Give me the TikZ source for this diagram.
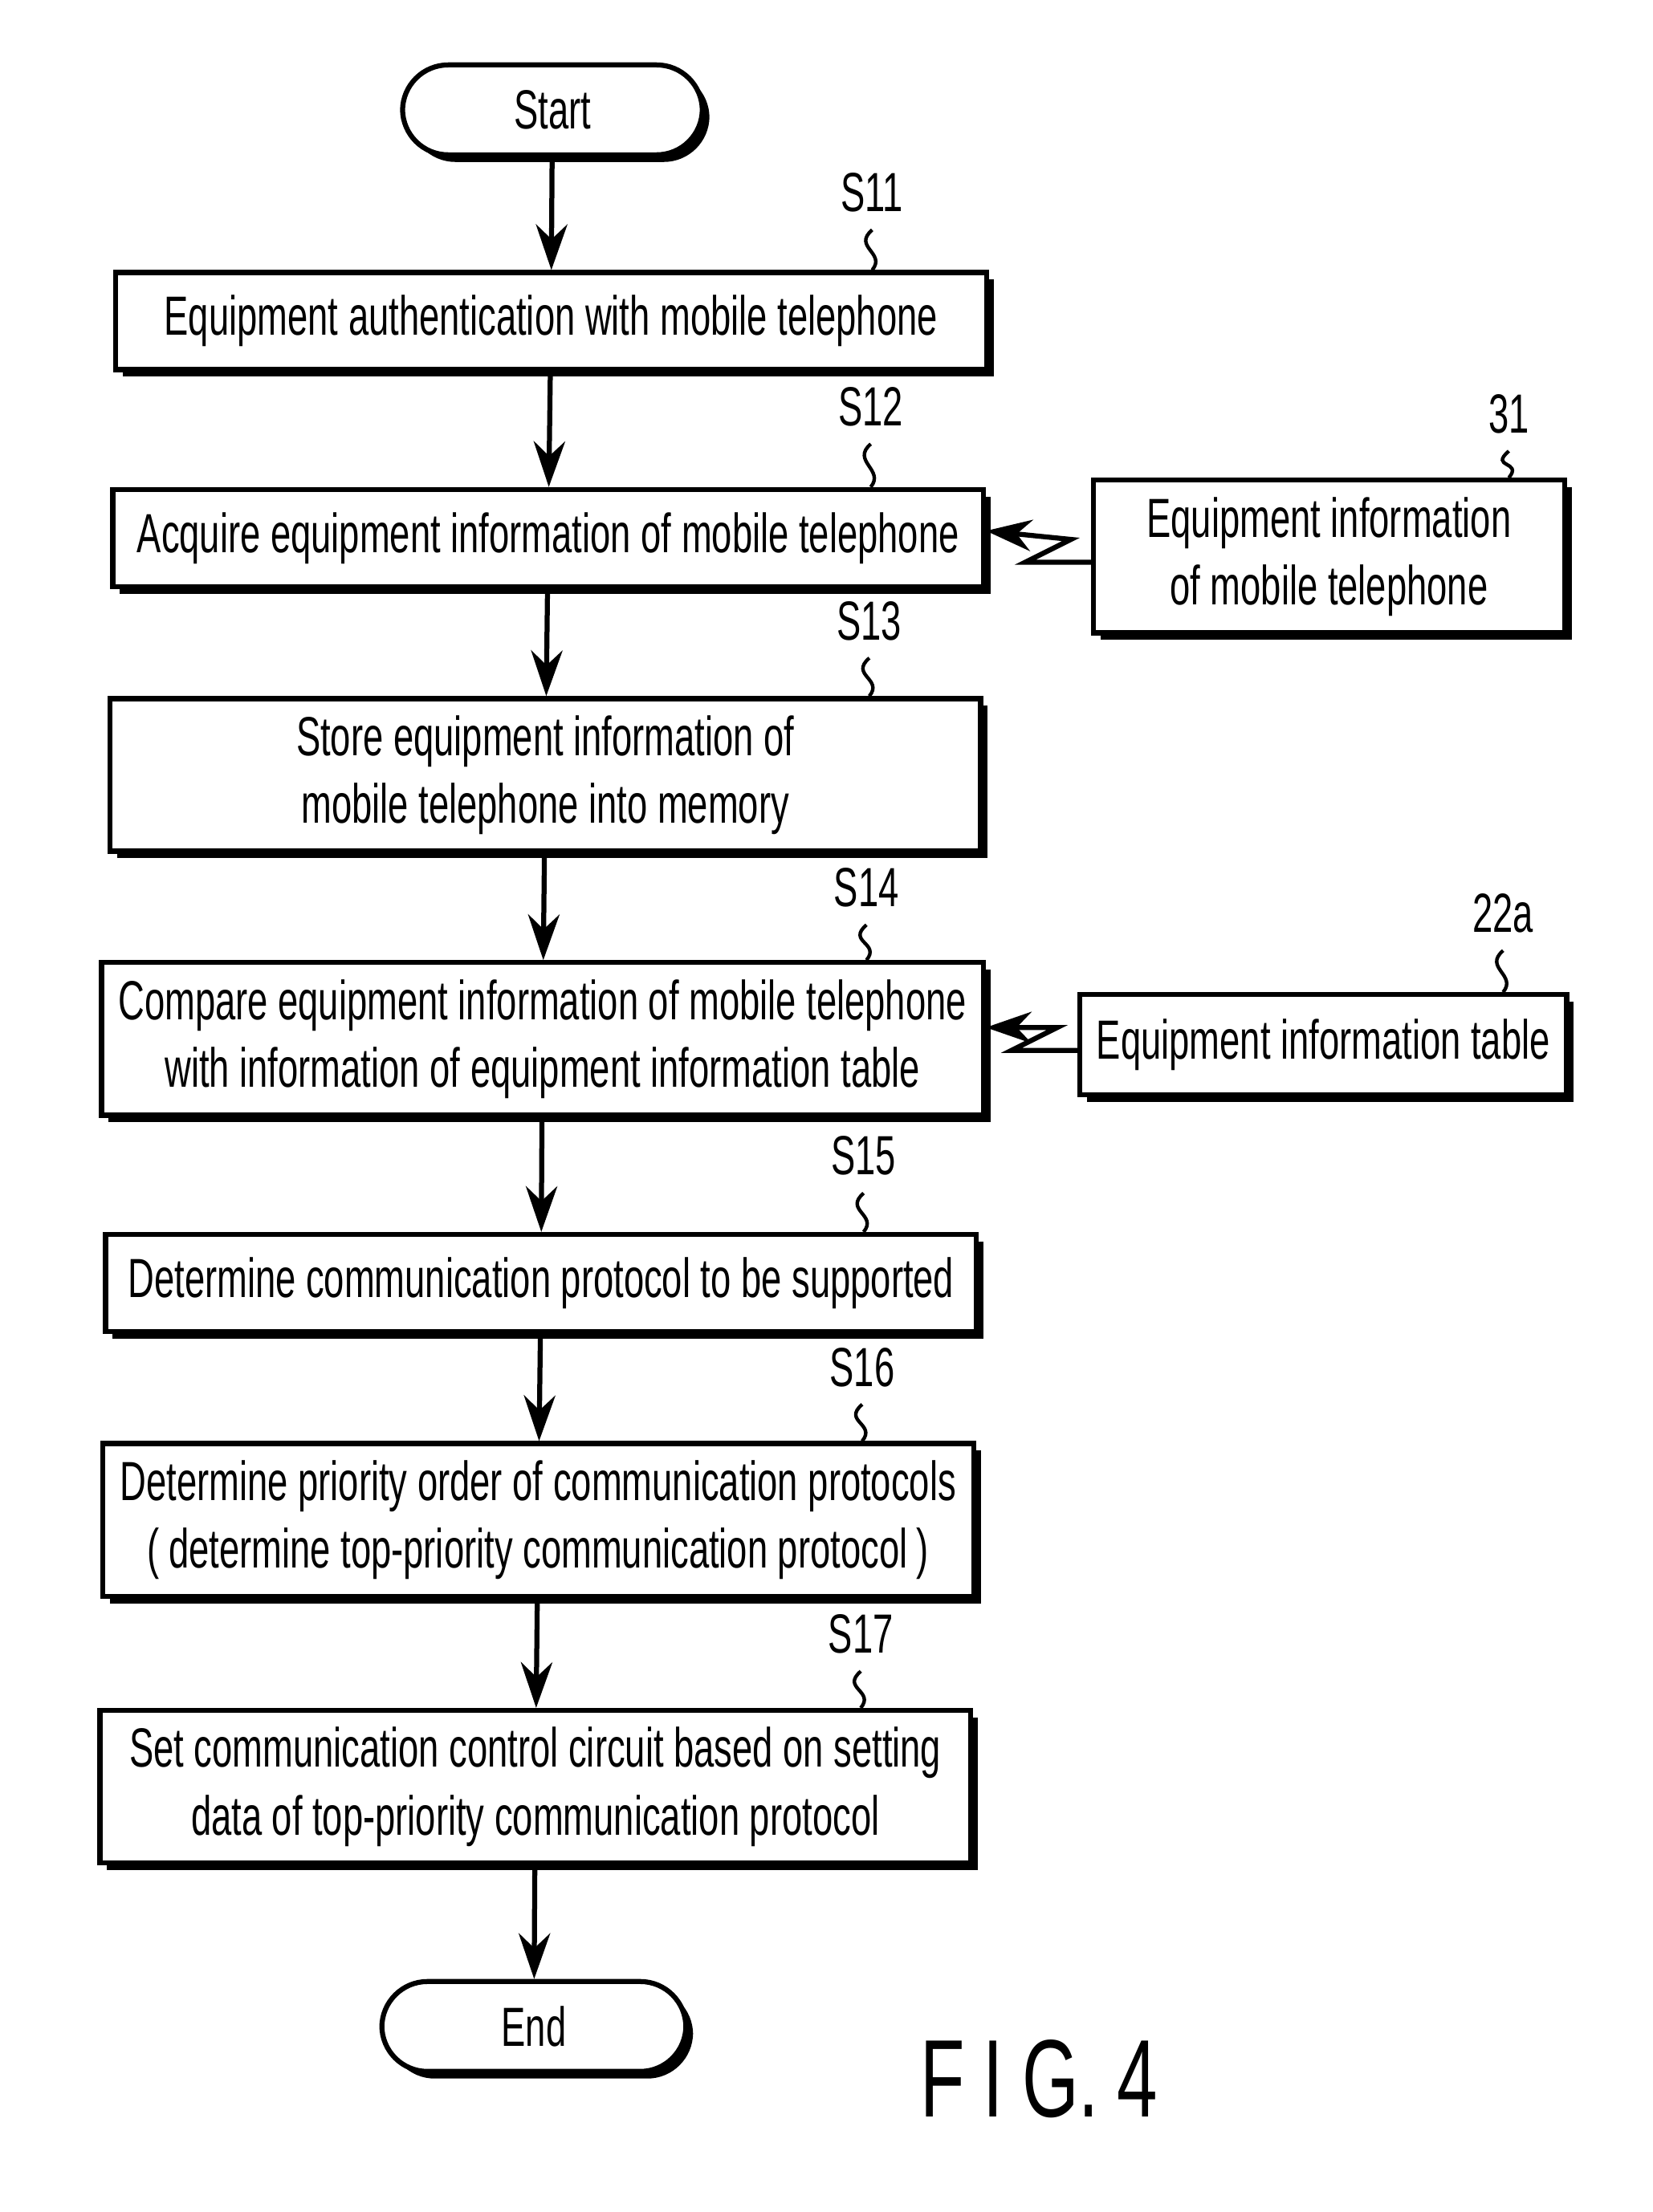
\documentclass[tikz,border=0pt]{standalone}
\usepackage{fontspec}
\setmainfont{Liberation Sans}[FakeStretch=0.66]
\usetikzlibrary{shadows,arrows.meta}
\tikzset{
  proc/.style={draw,line width=1pt,fill=white,minimum height=0.68cm,align=center,
    font=\fontsize{11}{13.5}\selectfont,drop shadow={opacity=1,shadow xshift=0.05cm,shadow yshift=-0.05cm,fill=black}},
  term/.style={proc,rounded corners=0.32cm,minimum height=0.63cm},
  flow/.style={-{Stealth[length=3.2mm,width=2.2mm]},line width=1pt},
  tag/.style={font=\fontsize{11}{13}\selectfont}
}
\newcommand{\squig}[2]{\draw[line width=0.7pt] (#1.south) .. controls +(-0.14,-0.12) and +(0.1,0.12) .. (#1.south |- #2.north);}
\begin{document}
\begin{tikzpicture}
\useasboundingbox (0,0) rectangle (11.58,15.5);
\node[term,minimum width=2.1cm] at (3.87,14.73) (start) {Start};
\node[proc,minimum width=6.1cm] at (3.86,13.25) (s11) {Equipment authentication with mobile telephone};
\node[proc,minimum width=6.1cm] at (3.84,11.73) (s12) {Acquire equipment information of mobile telephone};
\node[proc,minimum width=6.1cm,minimum height=1.06cm] at (3.82,10.07) (s13) {Store equipment information of\\mobile telephone into memory};
\node[proc,minimum width=6.1cm,minimum height=1.04cm] at (3.80,8.22) (s14) {Compare equipment information of mobile telephone\\with information of equipment information table};
\node[proc,minimum width=6.1cm] at (3.79,6.51) (s15) {Determine communication protocol to be supported};
\node[proc,minimum width=6.1cm,minimum height=1.05cm] at (3.77,4.85) (s16) {Determine priority order of communication protocols\\(\,determine top-priority communication protocol\,)};
\node[proc,minimum width=6.1cm,minimum height=1.04cm] at (3.75,2.98) (s17) {Set communication control circuit based on setting\\data of top-priority communication protocol};
\node[term,minimum width=2.13cm] at (3.74,1.30) (end) {End};
\node[proc,minimum width=3.3cm,minimum height=0.86cm] at (9.31,11.60) (tel) {Equipment information\\of mobile telephone};
\node[proc,minimum width=3.3cm,minimum height=0.7cm] at (9.27,8.18) (tab) {Equipment information table};
% step numbers
\node[tag] at (6.11,14.15) (l11) {S11};
\node[tag] at (6.10,12.65) (l12) {S12};
\node[tag] at (6.09,11.15) (l13) {S13};
\node[tag] at (6.07,9.28) (l14) {S14};
\node[tag] at (6.05,7.40) (l15) {S15};
\node[tag] at (6.04,5.92) (l16) {S16};
\node[tag] at (6.03,4.05) (l17) {S17};
\node[tag] at (10.57,12.60) (l31) {31};
\node[tag] at (10.53,9.10) (l22) {22a};
\squig{l11}{s11}
\squig{l12}{s12}
\squig{l13}{s13}
\squig{l14}{s14}
\squig{l15}{s15}
\squig{l16}{s16}
\squig{l17}{s17}
\squig{l31}{tel}
\squig{l22}{tab}
\node[font=\fontsize{22}{24}\selectfont] at (7.28,0.93) (fig) {F\,I\,G.\,4};
% flow
\foreach \a/\b in {start/s11,s11/s12,s12/s13,s13/s14,s14/s15,s15/s16,s16/s17,s17/end}
  \draw[flow] (\a) -- (\b);
\draw[flow] (tel.west) ++(0,-0.04) -- ++(-0.46,0) -- ++(0.32,0.16) -- (s12.east |- 0,11.78);
\draw[flow] (tab.west) ++(0,-0.04) -- ++(-0.46,0) -- ++(0.32,0.16) -- (s14.east |- 0,8.30);
\end{tikzpicture}
\end{document}
